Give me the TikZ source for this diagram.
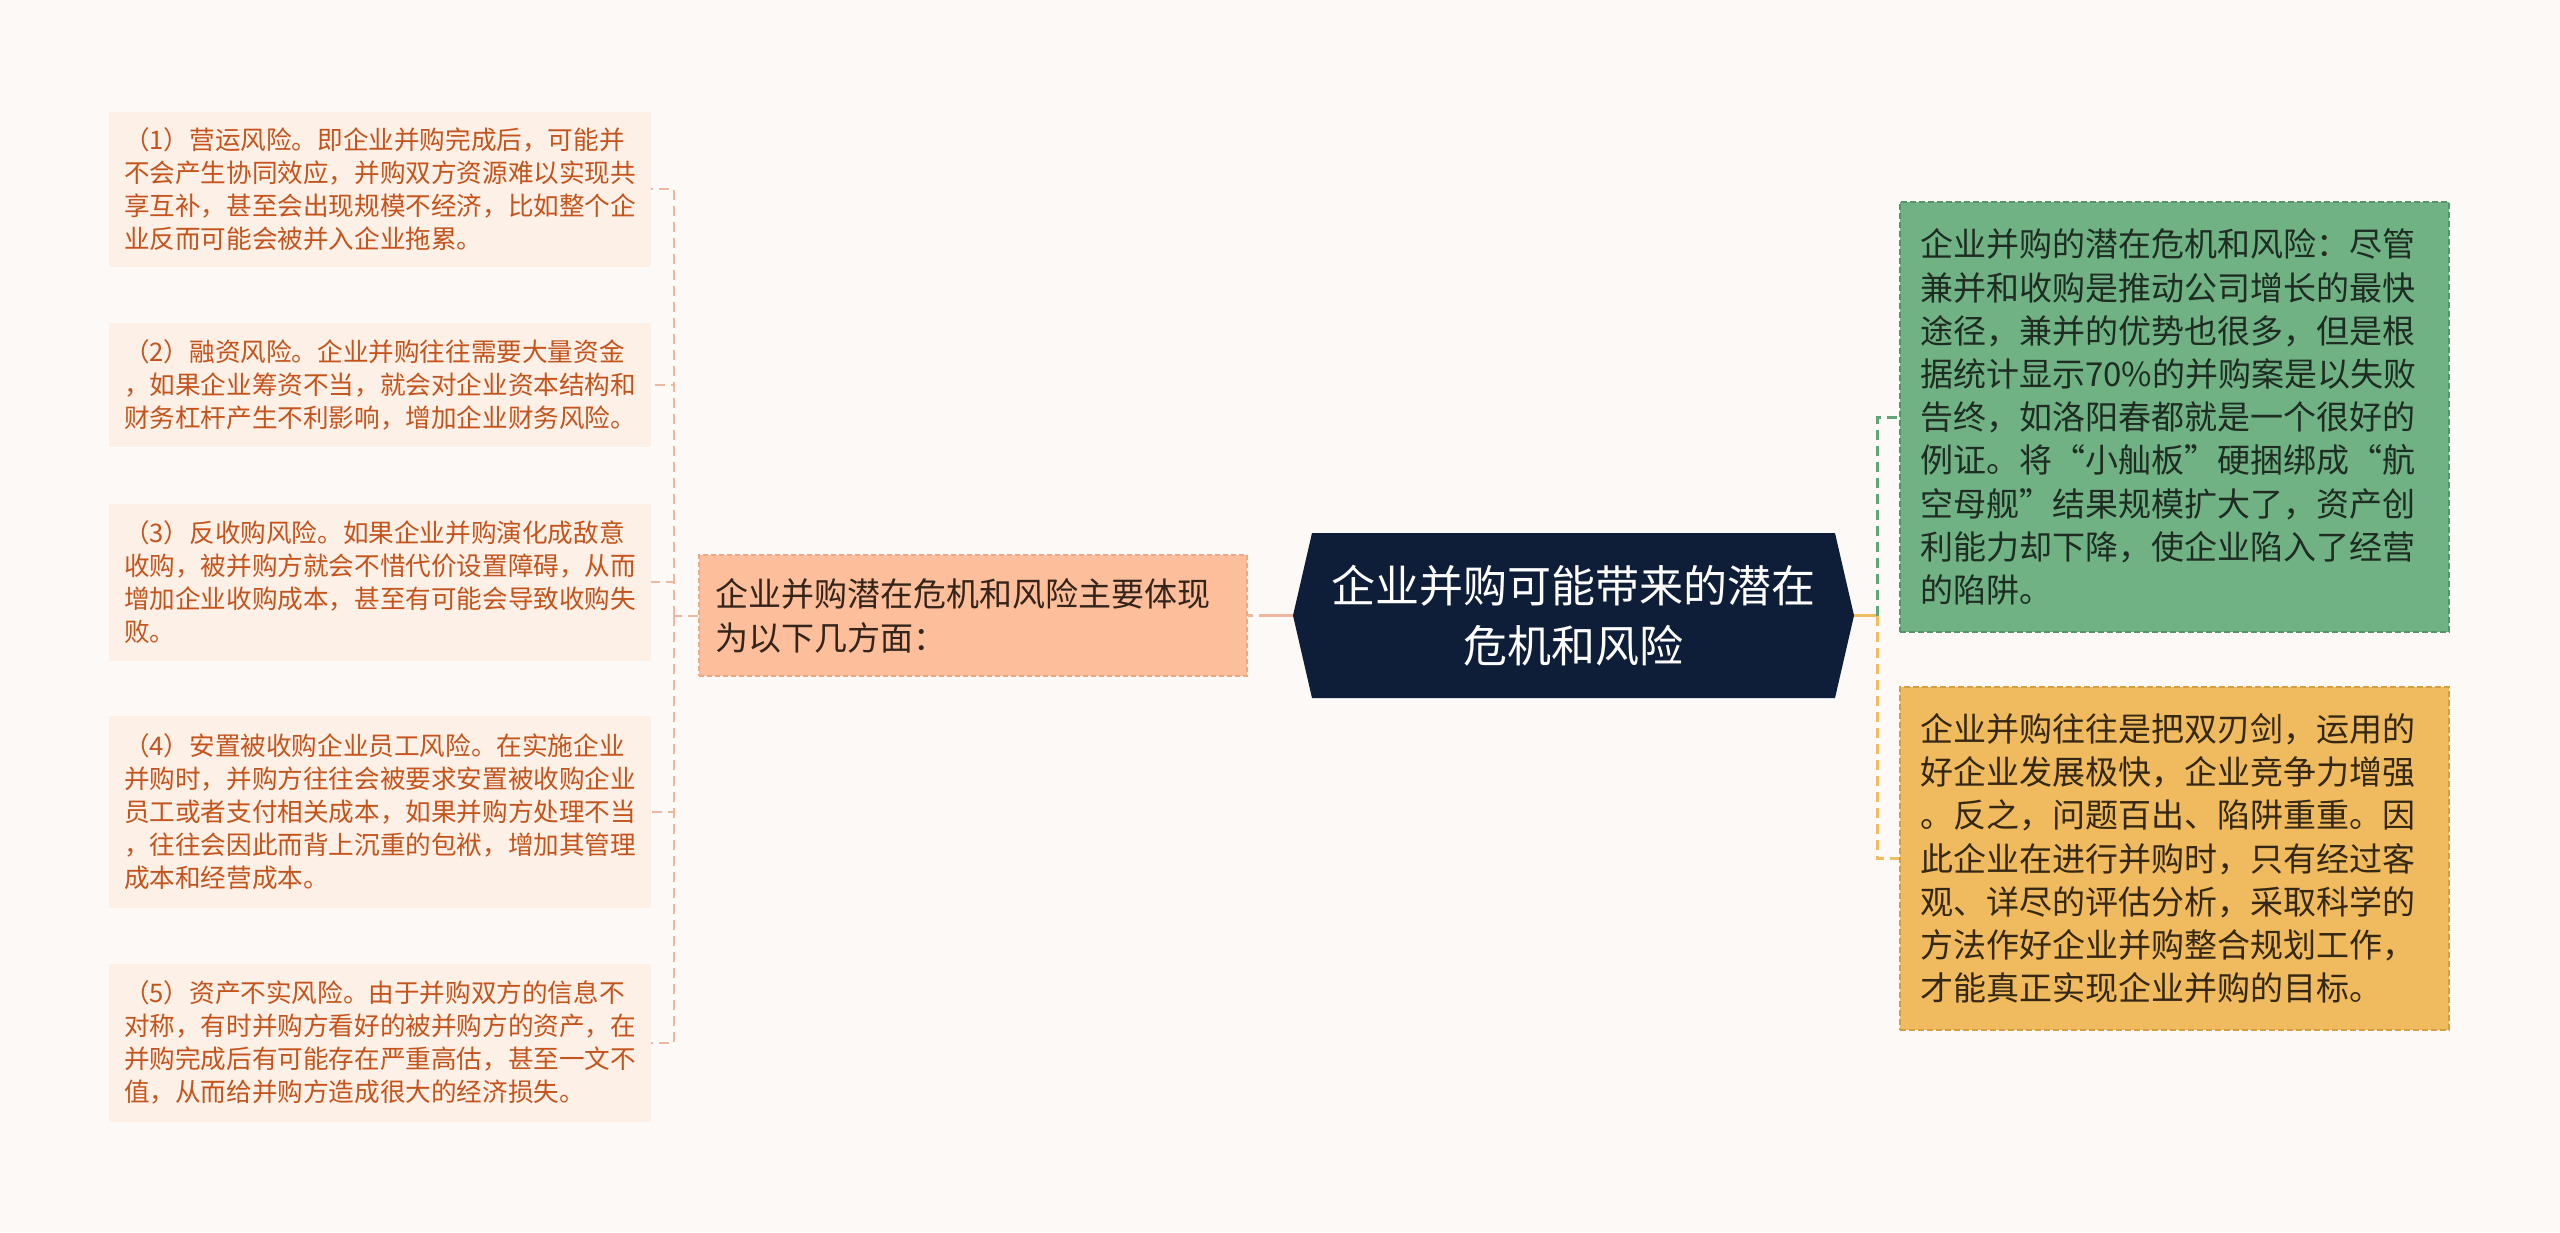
\documentclass[tikz,border=0pt]{standalone}
\usepackage{fontspec}
\setmainfont{Noto Sans CJK SC}
\usepackage{tikz}
\usetikzlibrary{calc}

\definecolor{paper}{RGB}{252,249,247}
\definecolor{leaffill}{RGB}{252,240,231}
\definecolor{leaftext}{RGB}{196,84,28}
\definecolor{peachline}{RGB}{238,184,158}
\definecolor{midfill}{RGB}{252,190,155}
\definecolor{midedge}{RGB}{240,168,130}
\definecolor{midtext}{RGB}{52,36,26}
\definecolor{rootfill}{RGB}{14,30,56}
\definecolor{greenfill}{RGB}{112,178,132}
\definecolor{greenedge}{RGB}{84,148,104}
\definecolor{greentext}{RGB}{30,44,34}
\definecolor{yellowfill}{RGB}{240,186,94}
\definecolor{yellowedge}{RGB}{214,158,62}
\definecolor{yellowtext}{RGB}{52,40,20}
\definecolor{greenline}{RGB}{96,164,120}
\definecolor{yellowline}{RGB}{240,190,96}

\begin{document}
\begin{tikzpicture}[x=1pt,y=1pt,yscale=-1,
  leafbox/.style={fill=leaffill,text=leaftext,align=left,text width=512pt,
    inner xsep=15pt,inner ysep=0pt,font=\fontsize{25.6}{33}\selectfont},
  midbox/.style={fill=midfill,draw=midedge,line width=1.5pt,dash pattern=on 5pt off 3pt,
    text=midtext,align=left,text width=516pt,inner xsep=16pt,inner ysep=0pt,
    font=\fontsize{33}{44}\selectfont},
  rightbox/.style={line width=1.5pt,dash pattern=on 6pt off 3pt,align=left,
    text width=509pt,inner xsep=20pt,inner ysep=0pt,font=\fontsize{33}{43.2}\selectfont},
  rootnode/.style={text=white,align=center,inner sep=0pt,font=\fontsize{44}{60}\selectfont,
    path picture={\fill[rootfill] (path picture bounding box.west)
      -- ([xshift=19pt]path picture bounding box.north west)
      -- ([xshift=-19pt]path picture bounding box.north east)
      -- (path picture bounding box.east)
      -- ([xshift=-19pt]path picture bounding box.south east)
      -- ([xshift=19pt]path picture bounding box.south west) -- cycle;}},
  peachlink/.style={draw=peachline,line width=2pt,dash pattern=on 10pt off 6pt},
  greenlink/.style={draw=greenline,line width=3pt,dash pattern=on 10pt off 6pt},
  yellowlink/.style={draw=yellowline,line width=3pt,dash pattern=on 10pt off 6pt}]

%Background
\fill[paper] (0,0) rectangle (2560,1232);
\useasboundingbox (0,0) rectangle (2560,1232);

% Root Node
\node[rootnode,minimum width=561pt,minimum height=165pt] (root) at (1573.5,615.5)
  {企业并购可能带来的潜在\\危机和风险};

% Text Node
\node[midbox,minimum height=121pt] (mid) at (973,615.5)
  {企业并购潜在危机和风险主要体现\\为以下几方面：};

% Text Node
\node[leafbox,minimum height=155pt] (risk1) at (380,189)
  {（1）营运风险。即企业并购完成后，可能并\\不会产生协同效应，并购双方资源难以实现共\\享互补，甚至会出现规模不经济，比如整个企\\业反而可能会被并入企业拖累。};
% Text Node
\node[leafbox,minimum height=124pt] (risk2) at (380,385)
  {（2）融资风险。企业并购往往需要大量资金\\，如果企业筹资不当，就会对企业资本结构和\\财务杠杆产生不利影响，增加企业财务风险。};
% Text Node
\node[leafbox,minimum height=157pt] (risk3) at (380,582)
  {（3）反收购风险。如果企业并购演化成敌意\\收购，被并购方就会不惜代价设置障碍，从而\\增加企业收购成本，甚至有可能会导致收购失\\败。};
% Text Node
\node[leafbox,minimum height=192pt] (risk4) at (380,811.5)
  {（4）安置被收购企业员工风险。在实施企业\\并购时，并购方往往会被要求安置被收购企业\\员工或者支付相关成本，如果并购方处理不当\\，往往会因此而背上沉重的包袱，增加其管理\\成本和经营成本。};
% Text Node
\node[leafbox,minimum height=158pt] (risk5) at (380,1042.5)
  {（5）资产不实风险。由于并购双方的信息不\\对称，有时并购方看好的被并购方的资产，在\\并购完成后有可能存在严重高估，甚至一文不\\值，从而给并购方造成很大的经济损失。};

% Text Node
\node[rightbox,fill=greenfill,draw=greenedge,text=greentext,minimum height=430pt] (green) at (2174.5,417)
  {企业并购的潜在危机和风险：尽管\\兼并和收购是推动公司增长的最快\\途径，兼并的优势也很多，但是根\\据统计显示70\%的并购案是以失败\\告终，如洛阳春都就是一个很好的\\例证。将“小舢板”硬捆绑成“航\\空母舰”结果规模扩大了，资产创\\利能力却下降，使企业陷入了经营\\的陷阱。};
% Text Node
\node[rightbox,fill=yellowfill,draw=yellowedge,text=yellowtext,minimum height=343pt] (yellow) at (2174.5,858.5)
  {企业并购往往是把双刃剑，运用的\\好企业发展极快，企业竞争力增强\\。反之，问题百出、陷阱重重。因\\此企业在进行并购时，只有经过客\\观、详尽的评估分析，采取科学的\\方法作好企业并购整合规划工作，\\才能真正实现企业并购的目标。};

%Straight Lines
\coordinate (rjoint) at ($(root.east)+(23,0)$);
\draw[draw=yellowline,line width=3pt] (root.east) -- (rjoint);
\draw[greenlink] (rjoint) |- (green.west);
\draw[yellowlink] (rjoint) |- (yellow.west);

%Straight Lines
\draw[peachlink,line width=3.5pt,dash pattern=on 34pt off 6pt] (root.west) -- (mid.east);
\coordinate (ljoint) at ($(mid.west)+(-24,0)$);
\draw[peachlink] (mid.west) -- (ljoint);
\foreach \n in {1,...,5}
  \draw[peachlink] (ljoint) |- (risk\n.east);

\end{tikzpicture}
\end{document}
